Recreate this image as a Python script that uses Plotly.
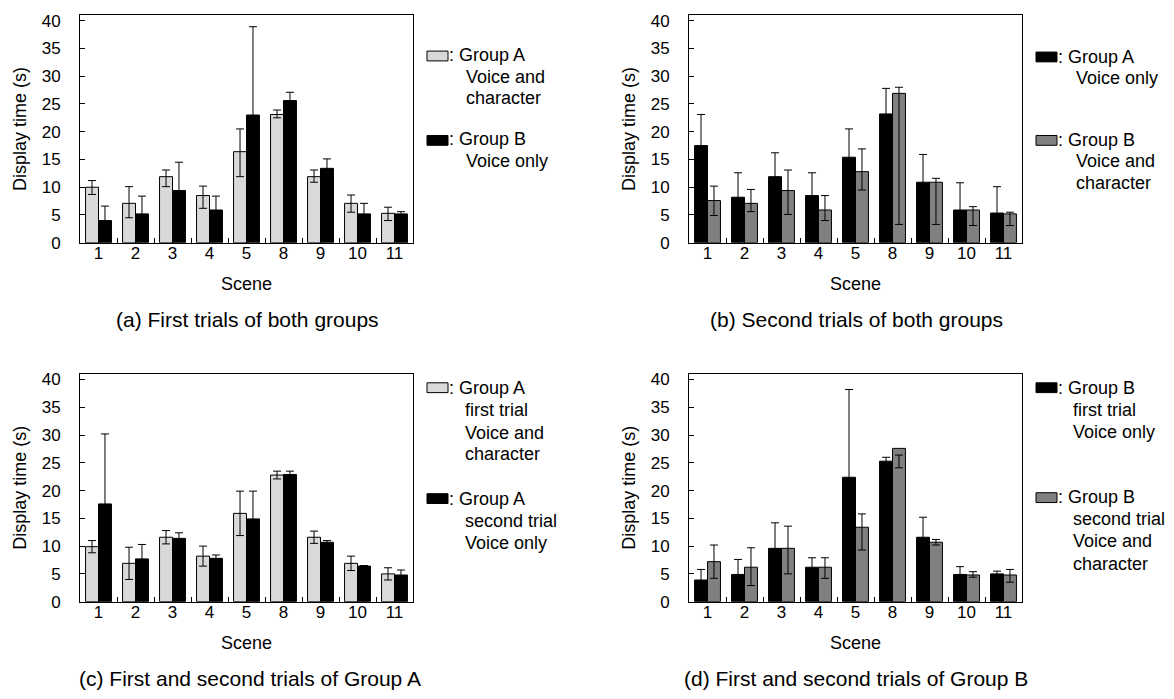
import plotly.graph_objects as go

scenes = ["1", "2", "3", "4", "5", "8", "9", "10", "11"]

# (a) First trials of both groups
a_groupA = [10.0, 7.1, 11.9, 8.5, 16.4, 23.1, 11.9, 7.1, 5.3]
a_groupA_err_up = [1.2, 3.0, 1.2, 1.7, 4.1, 0.8, 1.2, 1.5, 1.1]
a_groupA_err_down = [1.3, 2.6, 1.8, 2.3, 4.5, 0.6, 1.0, 1.6, 1.3]
a_groupB = [4.0, 5.2, 9.4, 5.9, 23.0, 25.6, 13.4, 5.2, 5.2]
a_groupB_err = [2.6, 3.2, 5.1, 2.5, 15.9, 1.5, 1.7, 1.9, 0.4]

# (b) Second trials of both groups
b_groupA = [17.5, 8.2, 11.9, 8.5, 15.4, 23.2, 10.9, 5.9, 5.35]
b_groupA_err = [5.6, 4.4, 4.3, 4.1, 5.1, 4.6, 5.0, 4.9, 4.75]
b_groupB = [7.6, 7.1, 9.4, 5.9, 12.8, 26.9, 10.9, 5.9, 5.2]
b_groupB_err_up = [2.6, 2.5, 3.7, 2.6, 4.1, 1.1, 0.7, 0.6, 0.3]
b_groupB_err_down = [2.7, 1.5, 4.3, 1.9, 3.3, 23.6, 7.6, 2.8, 2.1]

# (c) First and second trials of Group A
c_first = [9.9, 6.9, 11.6, 8.2, 15.9, 22.8, 11.6, 6.9, 5.0]
c_first_err = [1.1, 2.9, 1.2, 1.8, 4.0, 0.7, 1.1, 1.3, 1.1]
c_second = [17.6, 7.7, 11.4, 7.8, 14.9, 22.9, 10.7, 6.4, 4.8]
c_second_err = [12.6, 2.6, 1.0, 0.6, 5.0, 0.6, 0.3, 0.1, 0.9]

# (d) First and second trials of Group B
d_first = [3.9, 4.9, 9.6, 6.2, 22.4, 25.3, 11.6, 4.9, 5.0]
d_first_err = [1.9, 2.7, 4.6, 1.7, 15.8, 0.7, 3.6, 1.4, 0.5]
d_second = [7.2, 6.2, 9.6, 6.2, 13.4, 27.6, 10.7, 4.8, 4.8]
d_second_err_up = [3.0, 3.5, 4.0, 1.7, 2.4, -1.2, 0.5, 0.6, 1.0]
d_second_err_down = [3.0, 3.3, 4.6, 2.0, 4.1, 3.5, 0.5, 0.4, 1.3]

LIGHT = "#d9d9d9"
DARK = "#808080"
BLACK = "#000000"
FONT = "Arial, Liberation Sans, Helvetica, sans-serif"

W, H = 1174, 699
TICKFONT = 17
TITLEFONT = 18
LEGFONT = 18
CAPFONT = 21

fig = go.Figure()


def err(up, down=None):
    d = dict(type="data", array=up, color=BLACK, thickness=1, width=4, visible=True)
    if down is not None:
        d["symmetric"] = False
        d["arrayminus"] = down
    return d


def add_bar(vals, color, e, xa, ya, name):
    fig.add_trace(go.Bar(
        x=scenes, y=vals, name=name, showlegend=False,
        marker=dict(color=color, line=dict(color=BLACK, width=1)),
        error_y=e, xaxis=xa, yaxis=ya))


add_bar(a_groupA, LIGHT, err(a_groupA_err_up, a_groupA_err_down), "x", "y", "Group A")
add_bar(a_groupB, BLACK, err(a_groupB_err), "x", "y", "Group B")
add_bar(b_groupA, BLACK, err(b_groupA_err), "x2", "y2", "Group A")
add_bar(b_groupB, DARK, err(b_groupB_err_up, b_groupB_err_down), "x2", "y2", "Group B")
add_bar(c_first, LIGHT, err(c_first_err), "x3", "y3", "Group A first trial")
add_bar(c_second, BLACK, err(c_second_err), "x3", "y3", "Group A second trial")
add_bar(d_first, BLACK, err(d_first_err), "x4", "y4", "Group B first trial")
add_bar(d_second, DARK, err(d_second_err_up, d_second_err_down), "x4", "y4", "Group B second trial")

# panel pixel boxes: (left, right, top, bottom)
boxes = {
    "": (80, 413, 12.3, 244.3),
    "2": (689, 1022, 12.3, 244.3),
    "3": (80, 413, 378, 610),
    "4": (689, 1022, 378, 610),
}

layout = dict(
    width=W, height=H, margin=dict(l=0, r=0, t=0, b=0),
    paper_bgcolor="white", plot_bgcolor="white",
    font=dict(family=FONT, size=TICKFONT, color=BLACK),
    barmode="group", bargap=0.3, bargroupgap=0.0,
    showlegend=False,
)

for k, (l, r, t, b) in boxes.items():
    layout["xaxis" + k] = dict(
        domain=[l / W, r / W], anchor="y" + k, type="category",
        showline=True, linecolor=BLACK, linewidth=1, mirror=True,
        ticks="inside", tickson="boundaries", ticklen=5, tickcolor=BLACK,
        showgrid=False, zeroline=False,
        tickfont=dict(size=TICKFONT), ticklabelstandoff=-5,
        title=dict(text="Scene", font=dict(size=TITLEFONT), standoff=15),
    )
    layout["yaxis" + k] = dict(
        domain=[1 - b / H, 1 - t / H], anchor="x" + k,
        range=[0, 41], tickmode="linear", tick0=0, dtick=5,
        showline=True, linecolor=BLACK, linewidth=1, mirror=True,
        ticks="inside", ticklen=5, tickcolor=BLACK,
        showgrid=False, zeroline=False,
        tickfont=dict(size=TICKFONT), ticklabelstandoff=15,
        title=dict(text="Display time (s)", font=dict(size=TITLEFONT), standoff=10),
    )

annotations = []
shapes = []


def txt(x, y, s, anchor="left", size=LEGFONT):
    annotations.append(dict(x=x / W, y=1 - y / H, xref="paper", yref="paper",
                            text=s, showarrow=False, xanchor=anchor, yanchor="middle",
                            font=dict(size=size, family=FONT, color=BLACK)))


def swatch(x, y, color):
    shapes.append(dict(type="rect", xref="paper", yref="paper",
                       x0=x / W, x1=(x + 21) / W, y0=1 - (y + 5) / H, y1=1 - (y - 5) / H,
                       fillcolor=color, line=dict(color=BLACK, width=1)))


# legend (a)
swatch(427, 54, LIGHT)
txt(447, 53, ": Group A")
txt(464, 75, "Voice and")
txt(464, 97, "character")
swatch(427, 140, BLACK)
txt(447, 139, ": Group B")
txt(464, 161, "Voice only")

# legend (b)
swatch(1036, 55, BLACK)
txt(1056, 55, ": Group A")
txt(1074, 76, "Voice only")
swatch(1036, 140, DARK)
txt(1056, 140, ": Group B")
txt(1074, 161, "Voice and")
txt(1074, 183, "character")

# legend (c)
swatch(427, 392, LIGHT)
txt(447, 392, ": Group A")
txt(463, 415, "first trial")
txt(463, 438, "Voice and")
txt(463, 460, "character")
swatch(427, 505, BLACK)
txt(447, 505, ": Group A")
txt(463, 528, "second trial")
txt(463, 550, "Voice only")

# legend (d)
swatch(1036, 392, BLACK)
txt(1056, 392, ": Group B")
txt(1071, 415, "first trial")
txt(1071, 437, "Voice only")
swatch(1036, 504, DARK)
txt(1056, 503, ": Group B")
txt(1071, 526, "second trial")
txt(1071, 548, "Voice and")
txt(1071, 572, "character")

# captions
txt(247, 323, "(a) First trials of both groups", anchor="center", size=CAPFONT)
txt(856, 323, "(b) Second trials of both groups", anchor="center", size=CAPFONT)
txt(250, 688, "(c) First and second trials of Group A", anchor="center", size=CAPFONT)
txt(856, 688, "(d) First and second trials of Group B", anchor="center", size=CAPFONT)

layout["annotations"] = annotations
layout["shapes"] = shapes
fig.update_layout(**layout)

fig.write_html(
    "out.html",
    config={"displayModeBar": False},
    post_script="document.body.style.margin='0';document.body.style.overflow='hidden';",
)
